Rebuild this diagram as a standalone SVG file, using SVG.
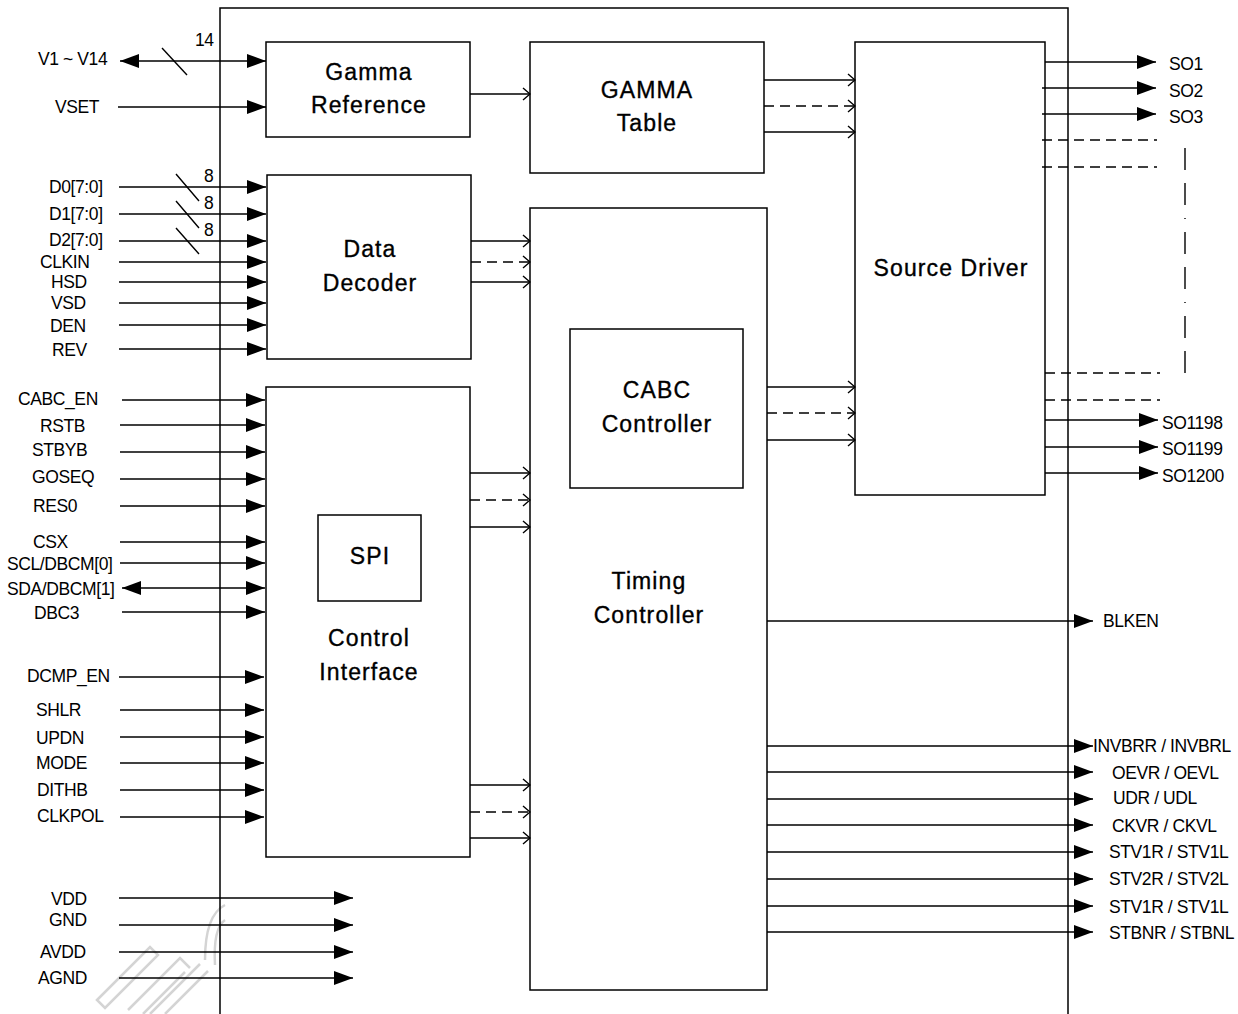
<svg xmlns="http://www.w3.org/2000/svg" width="1238" height="1014" viewBox="0 0 1238 1014">
<style>
text{font-family:"Liberation Sans",Arial,sans-serif;fill:#000}
.s{font-size:17.5px;letter-spacing:-0.4px}
.b{font-size:23px;text-anchor:middle;letter-spacing:1.1px;stroke:#000;stroke-width:0.35}
.box{fill:none;stroke:#000;stroke-width:1.5}
.w{fill:none;stroke:#000;stroke-width:1.4}
.f{marker-end:url(#fa)}
.o{marker-end:url(#oa)}
.d{stroke-dasharray:10 6}
.bi{marker-start:url(#fa);marker-end:url(#fa)}
.wm{fill:none;stroke:#d4d4d4;stroke-width:2.5}
</style>
<defs>
<marker id="fa" markerUnits="userSpaceOnUse" markerWidth="20" markerHeight="14" refX="19" refY="7" orient="auto-start-reverse"><path d="M0,0 L19,7 L0,14 z" fill="#000"/></marker>
<marker id="oa" markerUnits="userSpaceOnUse" markerWidth="9" markerHeight="14" refX="8" refY="7" orient="auto"><path d="M1,1 L8,7 L1,13" fill="none" stroke="#000" stroke-width="1.4"/></marker>
</defs>
<rect width="1238" height="1014" fill="#fff"/>
<g id="watermark">
<path class="wm" d="M97,1000 L150,947 L158,955 L105,1008 Z"/>
<path class="wm" d="M128,1010 L180,958 L190,968 M143,1014 L185,972"/>
<path class="wm" d="M150,1014 L200,964 M165,1014 L208,971"/>
<path class="wm" d="M205,960 Q205,915 225,905 M215,965 Q213,928 225,920"/>
</g>
<g id="chip"><path class="box" d="M220,1020 V8 H1068 V1020"/></g>
<g id="gamma-ref"><rect class="box" x="266" y="42" width="204" height="95"/><text class="b" x="369" y="80">Gamma</text><text class="b" x="369" y="113">Reference</text></g>
<g id="gamma-table"><rect class="box" x="530" y="42" width="234" height="131"/><text class="b" x="647" y="98">GAMMA</text><text class="b" x="647" y="131">Table</text></g>
<g id="source-driver"><rect class="box" x="855" y="42" width="190" height="453"/><text class="b" x="951" y="276">Source Driver</text></g>
<g id="data-decoder"><rect class="box" x="267" y="175" width="204" height="184"/><text class="b" x="370" y="257">Data</text><text class="b" x="370" y="291">Decoder</text></g>
<g id="timing-controller"><rect class="box" x="530" y="208" width="237" height="782"/><text class="b" x="649" y="589">Timing</text><text class="b" x="649" y="623">Controller</text></g>
<g id="cabc-controller"><rect class="box" x="570" y="329" width="173" height="159"/><text class="b" x="657" y="398">CABC</text><text class="b" x="657" y="432">Controller</text></g>
<g id="control-interface"><rect class="box" x="266" y="387" width="204" height="470"/><text class="b" x="369" y="646">Control</text><text class="b" x="369" y="680">Interface</text></g>
<g id="spi"><rect class="box" x="318" y="515" width="103" height="86"/><text class="b" x="370" y="564">SPI</text></g>
<g id="connectors">
<path class="w bi" d="M120,61 H266"/>
<path class="w" d="M162,48 L187,75"/>
<path class="w f" d="M118,107 H266"/>
<path class="w f" d="M119,187 H266"/>
<path class="w f" d="M119,214 H266"/>
<path class="w f" d="M119,241 H266"/>
<path class="w" d="M176,174 L199,201 M176,201 L199,228 M176,228 L199,254"/>
<path class="w f" d="M119,262 H266"/>
<path class="w f" d="M119,282 H266"/>
<path class="w f" d="M119,303 H266"/>
<path class="w f" d="M119,325 H266"/>
<path class="w f" d="M119,349 H266"/>
<path class="w f" d="M122,400 H265"/>
<path class="w f" d="M120,425 H265"/>
<path class="w f" d="M120,452 H265"/>
<path class="w f" d="M120,479 H265"/>
<path class="w f" d="M120,506 H265"/>
<path class="w f" d="M120,542 H265"/>
<path class="w f" d="M120,563 H265"/>
<path class="w bi" d="M122,588 H265"/>
<path class="w f" d="M122,612 H265"/>
<path class="w f" d="M119,677 H264"/>
<path class="w f" d="M120,710 H264"/>
<path class="w f" d="M120,737 H264"/>
<path class="w f" d="M120,763 H264"/>
<path class="w f" d="M120,790 H264"/>
<path class="w f" d="M120,817 H264"/>
<path class="w f" d="M119,898 H353"/>
<path class="w f" d="M119,925 H353"/>
<path class="w f" d="M119,952 H353"/>
<path class="w f" d="M119,978 H353"/>
<path class="w o" d="M470,94 H530"/>
<path class="w o" d="M764,80 H855"/>
<path class="w o d" d="M764,106 H855"/>
<path class="w o" d="M764,132 H855"/>
<path class="w o" d="M471,241 H530"/>
<path class="w o d" d="M471,262 H530"/>
<path class="w o" d="M471,282 H530"/>
<path class="w o" d="M767,387 H855"/>
<path class="w o d" d="M767,413 H855"/>
<path class="w o" d="M767,440 H855"/>
<path class="w o" d="M470,473 H530"/>
<path class="w o d" d="M470,500 H530"/>
<path class="w o" d="M470,527 H530"/>
<path class="w o" d="M470,785 H530"/>
<path class="w o d" d="M470,812 H530"/>
<path class="w o" d="M470,838 H530"/>
<path class="w f" d="M1045,62 H1156"/>
<path class="w f" d="M1042,88 H1156"/>
<path class="w f" d="M1042,114 H1156"/>
<path class="w d" d="M1042,140 H1157 M1042,167 H1157"/>
<path class="w" stroke-dasharray="22 13 22 13 1 13" d="M1185,148 V375"/>
<path class="w d" d="M1045,373 H1160 M1045,400 H1160"/>
<path class="w f" d="M1045,420 H1158"/>
<path class="w f" d="M1045,447 H1158"/>
<path class="w f" d="M1045,473 H1158"/>
<path class="w f" d="M767,621 H1093"/>
<path class="w f" d="M767,746 H1093"/>
<path class="w f" d="M767,772 H1093"/>
<path class="w f" d="M767,799 H1093"/>
<path class="w f" d="M767,825 H1093"/>
<path class="w f" d="M767,852 H1093"/>
<path class="w f" d="M767,879 H1093"/>
<path class="w f" d="M767,906 H1093"/>
<path class="w f" d="M767,932 H1093"/>
</g>
<g id="labels">
<text class="s" x="38" y="65">V1 ~ V14</text>
<text class="s" x="195" y="46">14</text>
<text class="s" x="55" y="113">VSET</text>
<text class="s" x="49" y="193">D0[7:0]</text>
<text class="s" x="49" y="220">D1[7:0]</text>
<text class="s" x="49" y="246">D2[7:0]</text>
<text class="s" x="204" y="182">8</text>
<text class="s" x="204" y="209">8</text>
<text class="s" x="204" y="236">8</text>
<text class="s" x="40" y="268">CLKIN</text>
<text class="s" x="51" y="288">HSD</text>
<text class="s" x="51" y="309">VSD</text>
<text class="s" x="50" y="332">DEN</text>
<text class="s" x="52" y="356">REV</text>
<text class="s" x="18" y="405">CABC_EN</text>
<text class="s" x="40" y="432">RSTB</text>
<text class="s" x="32" y="456">STBYB</text>
<text class="s" x="32" y="483">GOSEQ</text>
<text class="s" x="33" y="512">RES0</text>
<text class="s" x="33" y="548">CSX</text>
<text class="s" x="7" y="570">SCL/DBCM[0]</text>
<text class="s" x="7" y="595">SDA/DBCM[1]</text>
<text class="s" x="34" y="619">DBC3</text>
<text class="s" x="27" y="682">DCMP_EN</text>
<text class="s" x="36" y="716">SHLR</text>
<text class="s" x="36" y="744">UPDN</text>
<text class="s" x="36" y="769">MODE</text>
<text class="s" x="37" y="796">DITHB</text>
<text class="s" x="37" y="822">CLKPOL</text>
<text class="s" x="51" y="905">VDD</text>
<text class="s" x="49" y="926">GND</text>
<text class="s" x="40" y="958">AVDD</text>
<text class="s" x="38" y="984">AGND</text>
<text class="s" x="1169" y="70">SO1</text>
<text class="s" x="1169" y="97">SO2</text>
<text class="s" x="1169" y="123">SO3</text>
<text class="s" x="1162" y="429">SO1198</text>
<text class="s" x="1162" y="455">SO1199</text>
<text class="s" x="1162" y="482">SO1200</text>
<text class="s" x="1103" y="627">BLKEN</text>
<text class="s" x="1093" y="752">INVBRR / INVBRL</text>
<text class="s" x="1112" y="779">OEVR / OEVL</text>
<text class="s" x="1113" y="804">UDR / UDL</text>
<text class="s" x="1112" y="832">CKVR / CKVL</text>
<text class="s" x="1109" y="858">STV1R / STV1L</text>
<text class="s" x="1109" y="885">STV2R / STV2L</text>
<text class="s" x="1109" y="913">STV1R / STV1L</text>
<text class="s" x="1109" y="939">STBNR / STBNL</text>
</g>
</svg>
